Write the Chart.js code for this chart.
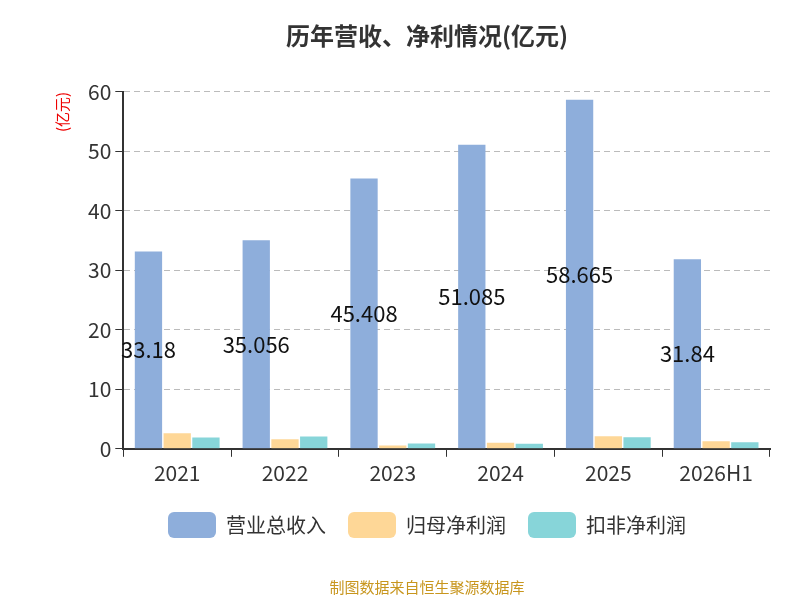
<!DOCTYPE html>
<html><head><meta charset="utf-8">
<script src="https://cdn.jsdelivr.net/npm/chart.js@4"></script>
<style>body{margin:0;background:#fff}#w{width:800px;height:600px;position:relative}</style>
</head><body><div id="w"><canvas id="c" width="800" height="600"></canvas></div>
<script>
const categories=['2021','2022','2023','2024','2025','2026H1'];
const revenue=[33.18,35.056,45.408,51.085,58.665,31.84];
const netProfit=[2.6,1.6,0.57,1.03,2.1,1.25];
const deductedProfit=[1.9,2.06,0.9,0.86,1.95,1.08];
const yTicks=[0,10,20,30,40,50,60];
const F='"Noto Sans CJK SC","Noto Sans",sans-serif';
const labelPlugin={id:'lbl',afterDatasetsDraw(ch){const ctx=ch.ctx;const m=ch.getDatasetMeta(0);const y=ch.scales.y;
ctx.save();ctx.font='22px '+F;ctx.fillStyle='#111';ctx.textAlign='center';ctx.textBaseline='middle';
m.data.forEach((b,i)=>{ctx.fillText(String(revenue[i]),b.x,y.getPixelForValue(revenue[i]/2));});
ctx.fillStyle='#e00';ctx.font='15px '+F;ctx.translate(62,112);ctx.rotate(-Math.PI/2);ctx.fillText('(亿元)',0,0);ctx.restore();}};
new Chart(document.getElementById('c'),{type:'bar',
data:{labels:categories,datasets:[
{label:'营业总收入',data:revenue,backgroundColor:'#8eaedb'},
{label:'归母净利润',data:netProfit,backgroundColor:'#fed797'},
{label:'扣非净利润',data:deductedProfit,backgroundColor:'#87d5d9'}]},
options:{responsive:false,animation:false,
layout:{padding:{left:84,right:30,top:11,bottom:0}},
datasets:{bar:{categoryPercentage:0.8,barPercentage:0.95}},
plugins:{title:{display:true,text:'历年营收、净利情况(亿元)',font:{family:F,size:24,weight:'bold'},color:'#333',padding:{top:10,bottom:42}},
legend:{position:'bottom',labels:{font:{family:F,size:20},color:'#333',boxWidth:48,boxHeight:26,useBorderRadius:true,borderRadius:6,padding:22}},
subtitle:{display:true,position:'bottom',text:'制图数据来自恒生聚源数据库',color:'#c8961e',font:{family:F,size:15},padding:{top:30,bottom:4}},
tooltip:{enabled:false}},
scales:{x:{grid:{display:true,drawOnChartArea:false,offset:true,tickLength:8,tickColor:'#333'},border:{color:'#333',width:2},ticks:{font:{family:F,size:21},color:'#333',padding:4}},
y:{min:0,max:60,afterBuildTicks:a=>{a.ticks=yTicks.map(v=>({value:v}));},
grid:{color:'#bbb',drawTicks:true,tickLength:8,tickColor:'#333'},border:{display:true,color:'#333',width:2,dash:[6,4]},
ticks:{font:{family:F,size:21},color:'#333',padding:4}}}},
plugins:[labelPlugin]});
</script></body></html>
